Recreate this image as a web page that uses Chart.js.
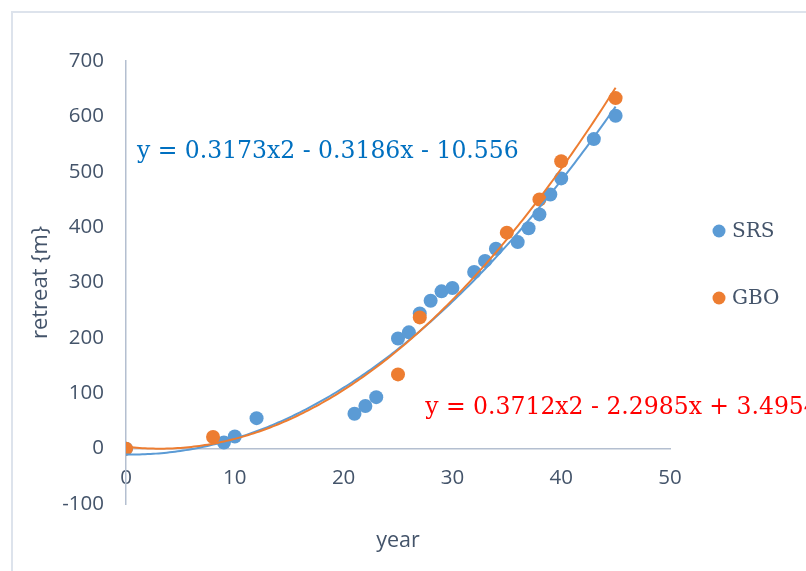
<!DOCTYPE html>
<html>
<head>
<meta charset="utf-8">
<script src="https://cdn.jsdelivr.net/npm/chart.js@4/dist/chart.umd.min.js"></script>
<style>
  html, body { margin: 0; padding: 0; background: #ffffff; }
  #wrap { width: 806px; height: 571px; position: relative; }
</style>
</head>
<body>
<div id="wrap"><canvas id="c" width="806" height="571"></canvas></div>
<script>
// Retreat measurements per year for the two methods
const srsYears   = [0, 9, 10, 12, 21, 22, 23, 25, 26, 27, 28, 29, 30, 32, 33, 34, 36, 37, 38, 39, 40, 43, 45];
const srsRetreat = [0, 11, 22, 55, 63, 77, 93, 199, 210, 244, 267, 284, 290, 319, 339, 361, 373, 398, 423, 459, 488, 559, 601];
const gboYears   = [0, 8, 25, 27, 35, 38, 40, 45];
const gboRetreat = [0, 21, 134, 237, 390, 450, 519, 633];

// Second-order polynomial trendline coefficients [a, b, c] for y = a x^2 + b x + c
const srsFit = [0.3173, -0.3186, -10.556];
const gboFit = [0.3712, -2.2985, 3.4954];

const xTicks = [0, 10, 20, 30, 40, 50];
const yTicks = [-100, 0, 100, 200, 300, 400, 500, 600, 700];
const legendOrder = ['SRS', 'GBO'];

const BLUE = '#5b9bd5';
const ORANGE = '#ed7d31';
const TEXT = '#44546a';
const SANS = '"Open Sans"';
const SERIF = '"DejaVu Serif"';

function toPoints(xs, ys) { return xs.map((x, i) => ({ x: x, y: ys[i] })); }
function fitLine(coef, xs) {
  const lo = Math.min(...xs), hi = Math.max(...xs);
  const pts = [];
  for (let x = lo; x <= hi + 1e-9; x += 0.25) {
    pts.push({ x: x, y: coef[0] * x * x + coef[1] * x + coef[2] });
  }
  return pts;
}
function eqText(coef) {
  const f = (v) => (v < 0 ? ' - ' : ' + ') + Math.abs(v);
  return 'y = ' + coef[0] + 'x2' + f(coef[1]) + 'x' + f(coef[2]);
}

// Frame around the whole figure
const framePlugin = {
  id: 'frame',
  beforeDraw(chart) {
    const ctx = chart.ctx;
    ctx.save();
    ctx.fillStyle = '#ffffff';
    ctx.fillRect(0, 0, chart.width, chart.height);
    ctx.strokeStyle = '#dde3ec';
    ctx.lineWidth = 2;
    ctx.strokeRect(12, 12, chart.width + 20, chart.height + 20);
    ctx.restore();
  }
};

// Trendline equations, anchored in data coordinates
const eqPlugin = {
  id: 'equations',
  afterDatasetsDraw(chart) {
    const { ctx, scales } = chart;
    const xs = scales.x, ys = scales.y;
    ctx.save();
    ctx.font = '23.5px ' + SERIF;
    ctx.textBaseline = 'middle';
    ctx.textAlign = 'left';
    ctx.fillStyle = '#0070c0';
    ctx.fillText(eqText(srsFit), xs.getPixelForValue(1.0), ys.getPixelForValue(536));
    ctx.fillStyle = '#ff0000';
    ctx.fillText(eqText(gboFit), xs.getPixelForValue(27.5), ys.getPixelForValue(73));
    ctx.restore();
  }
};

// Legend with round markers for the measured series
const legendPlugin = {
  id: 'sideLegend',
  afterDraw(chart) {
    const ctx = chart.ctx;
    const sets = chart.data.datasets;
    const items = legendOrder.map(name => sets.find(d => d.label === name));
    const x0 = 719, ys = [231, 298];
    ctx.save();
    ctx.font = '20px ' + SERIF;
    ctx.textBaseline = 'middle';
    items.forEach((d, i) => {
      ctx.beginPath();
      ctx.arc(x0, ys[i], 6.5, 0, Math.PI * 2);
      ctx.fillStyle = d.backgroundColor;
      ctx.fill();
      ctx.fillStyle = TEXT;
      ctx.fillText(d.label, x0 + 13, ys[i] + 1);
    });
    ctx.restore();
  }
};

function build() {
  new Chart(document.getElementById('c'), {
    type: 'scatter',
    data: {
      datasets: [
        {
          label: 'GBO trend', data: fitLine(gboFit, gboYears), showLine: true,
          borderColor: ORANGE, borderWidth: 2, pointRadius: 0, order: 0, tension: 0
        },
        {
          label: 'SRS trend', data: fitLine(srsFit, srsYears), showLine: true,
          borderColor: BLUE, borderWidth: 2, pointRadius: 0, order: 1, tension: 0
        },
        {
          label: 'GBO', data: toPoints(gboYears, gboRetreat),
          backgroundColor: ORANGE, borderColor: ORANGE, pointRadius: 7, borderWidth: 0, order: 2
        },
        {
          label: 'SRS', data: toPoints(srsYears, srsRetreat),
          backgroundColor: BLUE, borderColor: BLUE, pointRadius: 7, borderWidth: 0, order: 3
        }
      ]
    },
    options: {
      responsive: false,
      animation: false,
      events: [],
      layout: { padding: { left: 24, top: 61, right: 136, bottom: 67 } },
      plugins: {
        legend: { display: false },
        tooltip: { enabled: false },
        title: { display: false }
      },
      scales: {
        x: {
          type: 'linear',
          position: { y: 0 },
          min: 0, max: 50,
          afterBuildTicks: (s) => { s.ticks = xTicks.map(v => ({ value: v })); },
          afterFit: (s) => { s.height = 109; },
          grid: { display: false, drawTicks: false },
          border: { display: true, color: '#b4bfd0', width: 1.5 },
          ticks: { color: TEXT, font: { family: SANS, size: 20.5 }, padding: 17 },
          title: { display: true, text: 'year', color: TEXT, font: { family: SANS, size: 21.5 } }
        },
        y: {
          type: 'linear',
          position: 'left',
          min: -100, max: 700,
          afterBuildTicks: (s) => { s.ticks = yTicks.map(v => ({ value: v })); },
          afterFit: (s) => { s.width = 102; },
          grid: { display: false, drawTicks: false },
          border: { display: true, color: '#b4bfd0', width: 1.5 },
          ticks: { color: TEXT, font: { family: SANS, size: 20.5 }, padding: 22 },
          title: { display: true, text: 'retreat {m}', color: TEXT, font: { family: SANS, size: 22 } }
        }
      }
    },
    plugins: [framePlugin, eqPlugin, legendPlugin]
  });
}

Promise.all([
  document.fonts.load('20px ' + SANS),
  document.fonts.load('20px ' + SERIF)
]).then(build, build);
</script>
</body>
</html>
